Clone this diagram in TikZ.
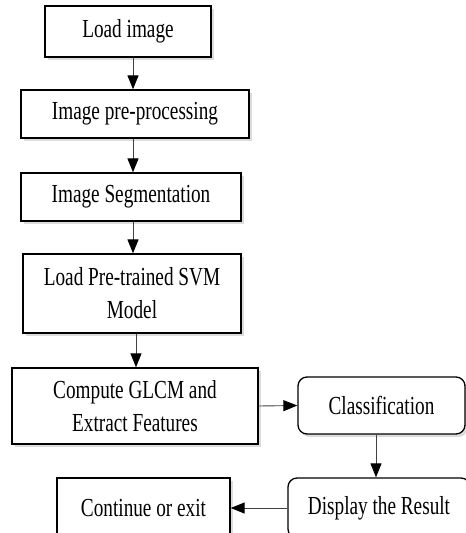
\documentclass[tikz,border=0pt]{standalone}
\usepackage{fontspec}
\setmainfont{Liberation Serif}[FakeStretch=0.74]
\usetikzlibrary{arrows.meta,shadows}

\begin{document}
\begin{tikzpicture}[
  x=1pt, y=-1pt,
  every node/.style={font=\fontsize{26}{33}\selectfont, align=center},
  stepbox/.style={draw, line width=1.3pt, fill=white, inner sep=0pt,
    drop shadow={shadow xshift=2.5pt, shadow yshift=-3pt, fill=gray!55}},
  roundbox/.style={stepbox, rounded corners=9pt},
  flow/.style={draw=gray!50!black, line width=0.9pt,
    -{Triangle[length=14pt,width=11pt,color=black]}},
]
\useasboundingbox (0,0) rectangle (466,533);

\node[stepbox, minimum width=166, minimum height=51] (load) at (128,31.5) {Load image};
\node[stepbox, minimum width=228, minimum height=48] (prep) at (135,114) {Image pre-processing};
\node[stepbox, minimum width=220, minimum height=48] (seg) at (131,197) {Image Segmentation};
\node[stepbox, minimum width=218, minimum height=79] (svm) at (132,293.5) {Load Pre-trained SVM\\Model};
\node[stepbox, minimum width=246, minimum height=76] (glcm) at (135,406) {Compute GLCM and\\Extract Features};
\node[roundbox, minimum width=167, minimum height=57] (cls) at (381.5,405.5) {Classification};
\node[roundbox, minimum width=182, minimum height=60] (disp) at (379,508) {Display the Result};
\node[stepbox, minimum width=173, minimum height=60] (cont) at (143.5,508) {Continue or exit};

% main column
\draw[flow] (load.south -| 133,0) -- (prep.north -| 133,0);
\draw[flow] (prep.south -| 133,0) -- (seg.north -| 133,0);
\draw[flow] (seg.south -| 133,0) -- (svm.north -| 133,0);
\draw[flow] (svm.south -| 136,0) -- (glcm.north -| 136,0);
% right branch
\draw[flow] (glcm.east) -- (cls.west);
\draw[flow] (cls.south -| 376,0) -- (disp.north -| 376,0);
\draw[flow] (disp.west) -- (cont.east);
\end{tikzpicture}
\end{document}
